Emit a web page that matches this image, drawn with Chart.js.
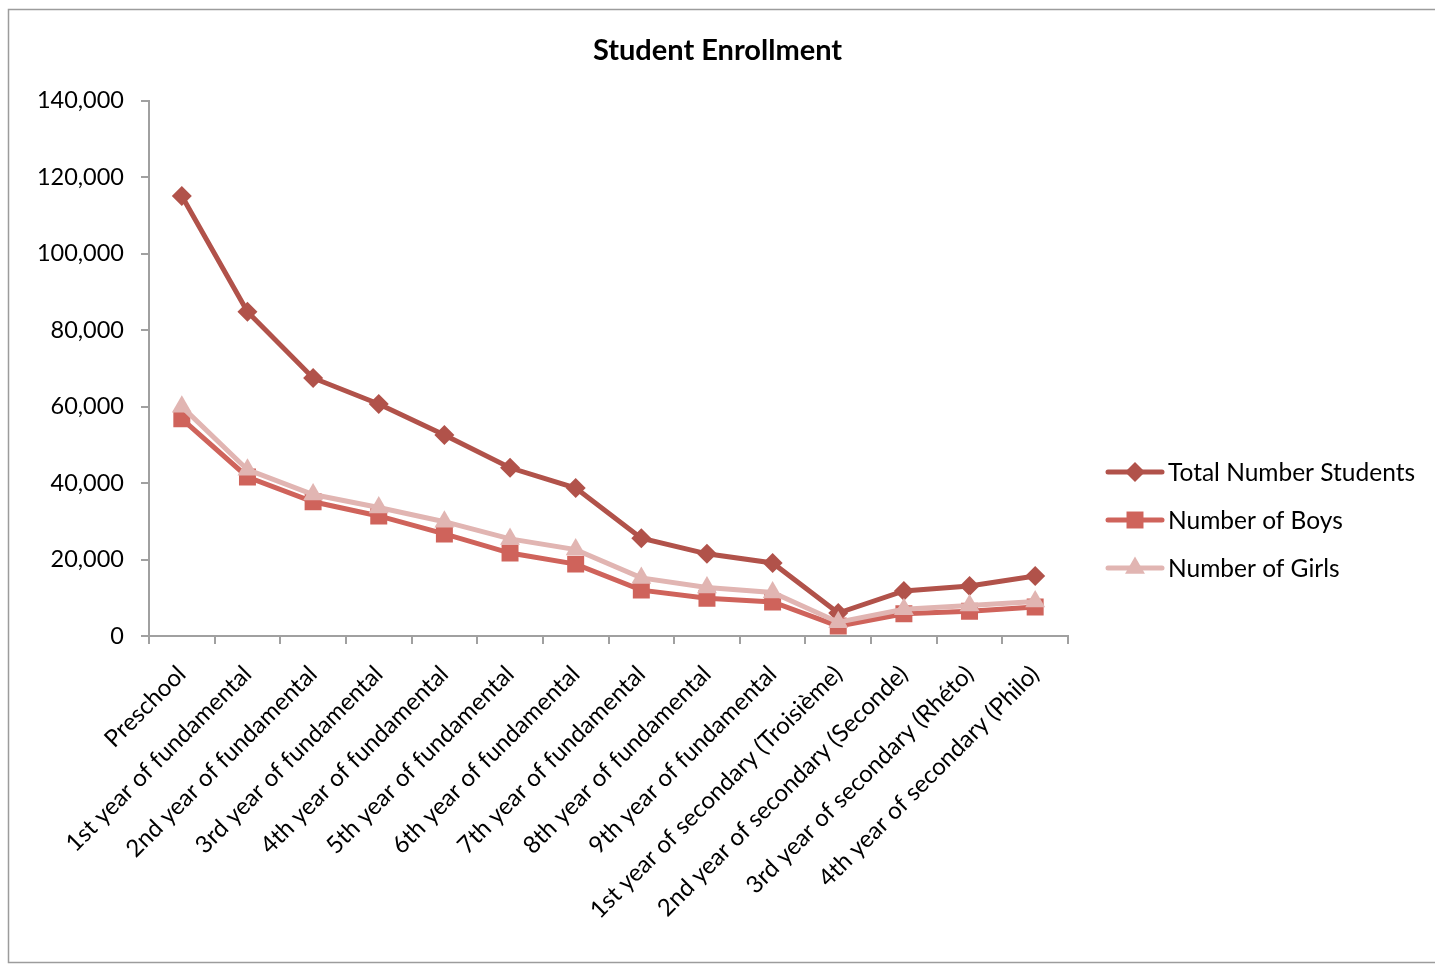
<!DOCTYPE html>
<html>
<head>
<meta charset="utf-8">
<script src="https://cdn.jsdelivr.net/npm/chart.js@4.4.1/dist/chart.umd.min.js"></script>
<style>
  html, body { margin: 0; padding: 0; background: #fff; overflow: hidden; }
  #wrap { position: absolute; left: 0; top: 0; width: 1435px; height: 964px; }
</style>
</head>
<body>
<div id="wrap"><canvas id="c" width="1435" height="964"></canvas></div>
<script>
const categories = [
  "Preschool",
  "1st year of fundamental",
  "2nd year of fundamental",
  "3rd year of fundamental",
  "4th year of fundamental",
  "5th year of fundamental",
  "6th year of fundamental",
  "7th year of fundamental",
  "8th year of fundamental",
  "9th year of fundamental",
  "1st year of secondary (Troisième)",
  "2nd year of secondary (Seconde)",
  "3rd year of secondary (Rhéto)",
  "4th year of secondary (Philo)"
];
const totalStudents = [115100, 84800, 67500, 60700, 52600, 44000, 38700, 25600, 21500, 19100, 6000, 11800, 13100, 15700];
const boys = [56800, 41600, 35100, 31400, 26700, 21700, 18800, 12000, 9900, 8900, 2600, 5800, 6500, 7600];
const girls = [60000, 43500, 37000, 33600, 29900, 25400, 22600, 15200, 12700, 11400, 3600, 7000, 8000, 9000];
const yTicks = [0, 20000, 40000, 60000, 80000, 100000, 120000, 140000];

const FONT = "Lato, 'Open Sans', sans-serif";
const colTotal = "#B1524A";
const colBoys = "#CF635B";
const colGirls = "#E1B5B2";
const axisCol = "#A0A0A0";

const seriesStyle = [
  { label: "Total Number Students", data: totalStudents, color: colTotal, point: "rectRot", r: 10, order: 3 },
  { label: "Number of Boys", data: boys, color: colBoys, point: "rect", r: 12, order: 2 },
  { label: "Number of Girls", data: girls, color: colGirls, point: "triangle", r: 11.5, order: 1 }
];

const spacerPlugin = {
  id: "rightSpacer",
  beforeInit(chart) {
    const box = {
      position: "right", weight: 100, fullSize: false,
      options: {},
      width: 0, height: 0, left: 0, top: 0, right: 0, bottom: 0,
      isHorizontal() { return false; },
      getPadding() { return { left: 0, right: 0, top: 0, bottom: 0 }; },
      update(maxWidth, maxHeight) { this.width = 367; this.height = maxHeight; return { width: this.width, height: this.height }; },
      draw() {}
    };
    Chart.layouts.addBox(chart, box);
  }
};

const framePlugin = {
  id: "frame",
  beforeDraw(chart) {
    const ctx = chart.ctx;
    ctx.save();
    ctx.fillStyle = "#fff";
    ctx.fillRect(0, 0, chart.width, chart.height);
    ctx.strokeStyle = "#9C9C9C";
    ctx.lineWidth = 1.5;
    ctx.strokeRect(8.5, 9.5, 1500, 953);
    ctx.restore();
  }
};

const legendPlugin = {
  id: "customLegend",
  afterDraw(chart) {
    const ctx = chart.ctx;
    ctx.save();
    const x0 = 1108, x1 = 1162, tx = 1168;
    const ys = [472, 520, 568];
    chart.data.datasets.forEach((ds, i) => {
      const y = ys[i];
      ctx.strokeStyle = ds.borderColor;
      ctx.lineWidth = 5;
      ctx.lineCap = "round";
      ctx.beginPath(); ctx.moveTo(x0, y); ctx.lineTo(x1, y); ctx.stroke();
      ctx.fillStyle = ds.pointBackgroundColor;
      ctx.strokeStyle = ds.pointBorderColor;
      Chart.helpers.drawPoint(ctx, { pointStyle: ds.pointStyle, radius: ds.pointRadius, rotation: 0, borderWidth: 0 }, (x0 + x1) / 2, y);
      ctx.fillStyle = "#000";
      ctx.font = "24.5px " + FONT;
      ctx.textBaseline = "middle";
      ctx.textAlign = "left";
      ctx.fillText(ds.label, tx, y + 1);
    });
    ctx.restore();
  }
};

new Chart(document.getElementById("c"), {
  type: "line",
  data: {
    labels: categories,
    datasets: seriesStyle.map(s => ({
      label: s.label,
      data: s.data,
      borderColor: s.color,
      backgroundColor: s.color,
      pointBackgroundColor: s.color,
      pointBorderColor: s.color,
      pointBorderWidth: 0,
      pointStyle: s.point,
      pointRadius: s.r,
      pointHoverRadius: s.r,
      borderWidth: 5,
      tension: 0,
      fill: false,
      order: s.order
    }))
  },
  options: {
    responsive: false,
    animation: false,
    devicePixelRatio: 1,
    layout: { padding: { top: 33, left: 0, right: 0, bottom: 0 } },
    plugins: {
      legend: { display: false },
      tooltip: { enabled: false },
      title: {
        display: true,
        text: "Student Enrollment",
        color: "#000",
        font: { family: FONT, size: 29, weight: "bold" },
        padding: { top: 0, bottom: 33 }
      }
    },
    scales: {
      x: {
        type: "category",
        offset: true,
        grid: { display: true, drawOnChartArea: false, drawTicks: true, tickLength: 8, color: axisCol, lineWidth: 2, offset: true },
        border: { display: true, color: axisCol, width: 2 },
        ticks: { color: "#000", font: { family: FONT, size: 24 }, maxRotation: 45, minRotation: 45, autoSkip: false, padding: 16 },
        afterFit(scale) { scale.height = 328; }
      },
      y: {
        min: 0, max: 140000,
        afterBuildTicks(scale) { scale.ticks = yTicks.map(v => ({ value: v })); },
        grid: { display: true, drawOnChartArea: false, drawTicks: true, tickLength: 8, color: axisCol, lineWidth: 2 },
        border: { display: true, color: axisCol, width: 2 },
        ticks: {
          color: "#000", font: { family: FONT, size: 23.5 }, padding: 17,
          callback: v => v.toLocaleString("en-US")
        },
        afterFit(scale) { scale.width = 149; }
      }
    }
  },
  plugins: [spacerPlugin, framePlugin, legendPlugin]
});
</script>
</body>
</html>
